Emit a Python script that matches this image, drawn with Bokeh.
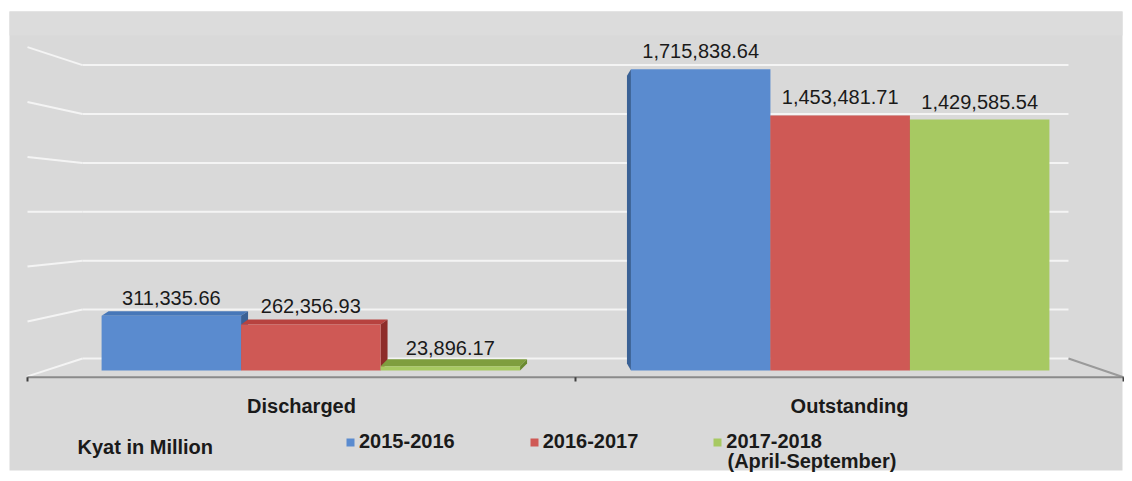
from bokeh.plotting import figure
from bokeh.models import Range1d, Legend, LegendItem, Label, ColumnDataSource
from bokeh.core.properties import value
from bokeh.embed import file_html
from bokeh.resources import INLINE

# ---------------- data ----------------
categories = ["Discharged", "Outstanding"]
series_names = ["2015-2016", "2016-2017", "2017-2018"]
series_note = "(April-September)"
values_2015_2016 = [311335.66, 1715838.64]
values_2016_2017 = [262356.93, 1453481.71]
values_2017_2018 = [23896.17, 1429585.54]
grid_ticks = [0, 300000, 600000, 900000, 1200000, 1500000, 1800000]
unit_note = "Kyat in Million"

series_values = [values_2015_2016, values_2016_2017, values_2017_2018]

# ---------------- style / layout ----------------
FONT = "Liberation Sans"
BG = "#d9d9d9"
BG_TOP = "#dcdcdc"
TXT = "#1a1a1a"
FRONT = ["#5a8bcf", "#cf5955", "#a7c962"]
TOP = ["#4777b8", "#b7423f", "#7e9e3e"]
SIDE = ["#3a6195", "#8e2d2a", "#6a8a30"]

W, H = 1124, 472
AX_L, AX_R = 27, 1123          # pixel x of the category axis ends
BASE_Y = 370                   # pixel y of value 0 (front of bars)
PX = 175.5e-6                  # pixels per unit of value
PX_X = (AX_R - AX_L) / 2.0     # pixels per category


def x_at(px):
    return (px - AX_L) / PX_X


def val_at(py):
    return (BASE_Y - py) / PX


# pseudo-3D settings
OFFS = [-0.2635, 0.0, 0.2635]
SHRINK = 0.966
BAR_W = 0.2545
EYE = val_at(211.7)
PERSP = 0.045
DX = {0: 7 / PX_X, 1: -4 / PX_X}
WALL_OFF = val_at(358)
WALL_K = 163.0 / 175.5
STUB_K = 1.122
WALL_X0, WALL_X1 = x_at(82), x_at(1068)

p = figure(width=W, height=H, x_range=Range1d(x_at(0), x_at(W)),
           y_range=Range1d(val_at(H), val_at(0)),
           output_backend="svg", toolbar_location=None,
           x_axis_location=None, y_axis_location=None,
           min_border=0, min_border_left=0, min_border_right=0,
           min_border_top=0, min_border_bottom=0)
p.background_fill_color = "white"
p.border_fill_color = "white"
p.outline_line_color = None
p.grid.visible = False

# chart area background
p.quad(left=[x_at(9)], right=[x_at(1122)], top=[val_at(11)], bottom=[val_at(470)],
       fill_color=BG, line_color=None)
p.quad(left=[x_at(9)], right=[x_at(1122)], top=[val_at(11)], bottom=[val_at(35)],
       fill_color=BG_TOP, line_color=None)

# back wall gridlines with perspective stubs on the left wall
wall = [WALL_OFF + t * WALL_K for t in grid_ticks]
stub = [EYE + (w - EYE) * STUB_K for w in wall]
p.segment(x0=[WALL_X0] * len(wall), x1=[WALL_X1] * len(wall), y0=wall, y1=wall,
          line_color="#f4f4f4", line_width=2)
p.segment(x0=[0] * len(wall), x1=[WALL_X0] * len(wall), y0=stub, y1=wall,
          line_color="#f4f4f4", line_width=2)
axis_val = val_at(376.7)
p.segment(x0=[WALL_X1], x1=[2.0], y0=[wall[0]], y1=[axis_val],
          line_color="#9a9a9a", line_width=2)
# category axis line and boundary ticks
p.segment(x0=[0], x1=[2.0], y0=[axis_val], y1=[axis_val], line_color="#8a8a8a", line_width=2)
p.segment(x0=[0.0, 1.0, 2.0], x1=[0.0, 1.0, 2.0], y0=[axis_val] * 3,
          y1=[val_at(381)] * 3, line_color="#404040", line_width=2)

# bar positions
xs_series = []
for j in range(3):
    xs_series.append([1 + (i + 0.5 + OFFS[j] - 1) * SHRINK for i in range(len(categories))])


def back(x, v, i):
    return x + DX[i], v + (EYE - v) * PERSP


# faces (top + side), drawn in painter order
face_xs, face_ys, face_c = [], [], []
for i in range(len(categories)):
    order = range(3) if DX[i] > 0 else range(2, -1, -1)
    for j in order:
        xc = xs_series[j][i]
        v = series_values[j][i]
        x0, x1 = xc - BAR_W / 2, xc + BAR_W / 2
        if v < EYE:
            bx0, bv = back(x0, v, i)
            bx1, _ = back(x1, v, i)
            face_xs.append([x0, x1, bx1, bx0]); face_ys.append([v, v, bv, bv]); face_c.append(TOP[j])
        xe = x1 if DX[i] > 0 else x0
        bxe, bv = back(xe, v, i)
        _, b0 = back(xe, 0, i)
        face_xs.append([xe, xe, bxe, bxe]); face_ys.append([0, v, bv, b0]); face_c.append(SIDE[j])
p.patches(xs=face_xs, ys=face_ys, fill_color=face_c, line_color=None)

renderers = []
for j in range(3):
    src = ColumnDataSource(dict(x=xs_series[j], top=series_values[j],
                                label=[f"{v:,.2f}" for v in series_values[j]]))
    r = p.vbar(x="x", top="top", bottom=0, width=BAR_W, source=src,
               fill_color=FRONT[j], line_color=None)
    renderers.append(r)
    p.text(x="x", y="top", text="label", source=src, text_align="center",
           text_baseline="alphabetic", y_offset=-18, text_font=value(FONT),
           text_font_size="20px", text_color=TXT)

# category labels
p.text(x=[i + 0.5 for i in range(len(categories))], y=[val_at(405)] * len(categories),
       text=categories, text_align="center", text_baseline="middle",
       text_font=value(FONT), text_font_size="20px", text_font_style="bold", text_color=TXT)

legend = Legend(items=[LegendItem(label=series_names[j], renderers=[renderers[j]]) for j in range(3)],
                orientation="horizontal", location=(345, H - 453),
                glyph_width=10, glyph_height=10, label_standoff=4, spacing=74,
                padding=0, margin=0, border_line_color=None, background_fill_alpha=0,
                label_text_font=FONT, label_text_font_size="20px",
                label_text_font_style="bold", label_text_color=TXT)
p.add_layout(legend)

p.add_layout(Label(x=77, y=H - 446.5, x_units="screen", y_units="screen", text=unit_note,
                   text_baseline="middle", text_font=FONT, text_font_size="20px",
                   text_font_style="bold", text_color=TXT))
p.add_layout(Label(x=727, y=H - 460, x_units="screen", y_units="screen", text=series_note,
                   text_baseline="middle", text_font=FONT, text_font_size="20px",
                   text_font_style="bold", text_color=TXT))

open("out.html", "w").write(file_html(p, INLINE))
